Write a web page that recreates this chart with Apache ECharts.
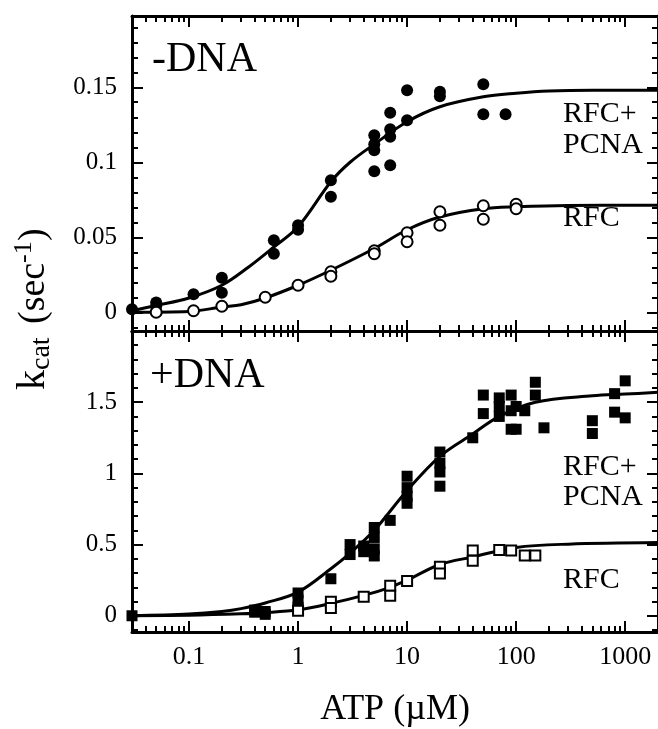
<!DOCTYPE html>
<html>
<head>
<meta charset="utf-8">
<script src="https://cdn.jsdelivr.net/npm/echarts@6/dist/echarts.min.js"></script>
<style>
  html, body { margin: 0; padding: 0; background: #fff; }
  #chart { width: 658px; height: 729px; }
</style>
</head>
<body>
<div id="chart"></div>
<script>
const font = '"Liberation Serif", "Times New Roman", Times, serif';

// x: ATP (uM), log scale
const xMin = 0.03, xMax = 2000;
const xMajor = [0.1, 1, 10, 100, 1000];
const xMinor = [0.04, 0.05, 0.06, 0.07, 0.08, 0.09,
  0.2, 0.3, 0.4, 0.5, 0.6, 0.7, 0.8, 0.9,
  2, 3, 4, 5, 6, 7, 8, 9,
  20, 30, 40, 50, 60, 70, 80, 90,
  200, 300, 400, 500, 600, 700, 800, 900];

// y ticks, top (-DNA) and bottom (+DNA)
const topMajor = [0, 0.05, 0.1, 0.15];
const topMinor = [-0.01, 0.01, 0.02, 0.03, 0.04, 0.06, 0.07, 0.08, 0.09,
  0.11, 0.12, 0.13, 0.14, 0.16, 0.17, 0.18, 0.19];
const botMajor = [0, 0.5, 1, 1.5];
const botMinor = [-0.1, 0.1, 0.2, 0.3, 0.4, 0.6, 0.7, 0.8, 0.9,
  1.1, 1.2, 1.3, 1.4, 1.6, 1.7, 1.8, 1.9];

// -DNA, RFC+PCNA (filled circles)
const minusPcna = [[0.03, 0.002], [0.05, 0.0065], [0.05, 0.004], [0.11, 0.012], [0.2, 0.023], [0.2, 0.013],
  [0.6, 0.048], [0.6, 0.039], [1, 0.058], [1, 0.055], [2, 0.088], [2, 0.077],
  [5, 0.118], [5, 0.112], [5, 0.108], [5, 0.094], [7, 0.133], [7, 0.122], [7, 0.117], [7, 0.098],
  [10, 0.148], [10, 0.128], [20, 0.147], [20, 0.144], [50, 0.152], [50, 0.132], [80, 0.132]];
const minusPcnaFit = [[0.03, 0.001], [0.05, 0.0045], [0.1, 0.0095], [0.2, 0.018], [0.35, 0.03], [0.6, 0.0435],
  [1, 0.057], [2, 0.087], [3, 0.1], [5, 0.112], [10, 0.127], [20, 0.137], [50, 0.1436],
  [100, 0.146], [200, 0.1475], [500, 0.148], [2000, 0.148]];

// -DNA, RFC (open circles)
const minusRfc = [[0.05, 0.0], [0.11, 0.001], [0.2, 0.004], [0.5, 0.01], [1, 0.018], [2, 0.027], [2, 0.024],
  [5, 0.041], [5, 0.039], [10, 0.053], [10, 0.047], [20, 0.067], [20, 0.058],
  [50, 0.071], [50, 0.062], [100, 0.072], [100, 0.069]];
const minusRfcFit = [[0.03, 0.0], [0.1, 0.0005], [0.2, 0.0035], [0.3, 0.005], [0.5, 0.0095], [1, 0.018],
  [2, 0.028], [5, 0.0425], [10, 0.055], [20, 0.0635], [50, 0.069], [100, 0.0703], [300, 0.0712], [2000, 0.0713]];

// +DNA, RFC+PCNA (filled squares)
const plusPcna = [[0.03, 0.0], [0.4, 0.04], [0.4, 0.025], [0.5, 0.03], [0.5, 0.01],
  [1, 0.16], [1, 0.11], [1, 0.06], [2, 0.26], [3, 0.5], [3, 0.43], [4, 0.49], [4, 0.45],
  [5, 0.62], [5, 0.55], [5, 0.47], [5, 0.42], [7, 0.67],
  [10, 0.98], [10, 0.9], [10, 0.84], [10, 0.79], [20, 1.15], [20, 1.07], [20, 1.01], [20, 0.91],
  [40, 1.25], [50, 1.55], [50, 1.42], [70, 1.53], [70, 1.47], [70, 1.4],
  [90, 1.55], [90, 1.44], [90, 1.31], [100, 1.47], [100, 1.31], [120, 1.44],
  [150, 1.64], [150, 1.55], [180, 1.32], [500, 1.37], [500, 1.28],
  [800, 1.56], [800, 1.43], [1000, 1.65], [1000, 1.39]];
const plusPcnaFit = [[0.03, 0.0], [0.1, 0.012], [0.2, 0.03], [0.3, 0.05], [0.5, 0.09], [1, 0.166],
  [2, 0.33], [3, 0.44], [5, 0.6], [10, 0.88], [20, 1.12], [40, 1.277], [70, 1.4],
  [150, 1.5], [500, 1.545], [1000, 1.557], [2000, 1.569]];

// +DNA, RFC (open squares)
const plusRfc = [[1, 0.036], [2, 0.099], [2, 0.054], [4, 0.133], [7, 0.21], [7, 0.14], [10, 0.245],
  [20, 0.345], [20, 0.296], [40, 0.458], [40, 0.386], [70, 0.462], [90, 0.458], [120, 0.424], [150, 0.424]];
const plusRfcFit = [[0.03, 0.0], [0.1, 0.004], [0.3, 0.014], [0.5, 0.022], [1, 0.042], [2, 0.087],
  [4, 0.143], [7, 0.2], [10, 0.25], [20, 0.36], [40, 0.413], [100, 0.48], [300, 0.503], [2000, 0.514]];

function makeX(gridIndex, position, ticks, len, showLine, showLabel) {
  return {
    type: 'log', logBase: 10, gridIndex, position, min: xMin, max: xMax,
    axisLine: { show: showLine, onZero: false, lineStyle: { color: '#000', width: 3 } },
    axisTick: { show: true, inside: true, length: len, customValues: ticks, lineStyle: { color: '#000', width: 2 } },
    axisLabel: { show: showLabel, customValues: ticks, color: '#000', fontFamily: font, fontSize: 26, margin: 12,
      formatter: v => String(v) },
    splitLine: { show: false }
  };
}
function makeY(gridIndex, position, min, max, ticks, len, showLine, showLabel) {
  return {
    type: 'value', gridIndex, position, min, max,
    axisLine: { show: showLine, onZero: false, lineStyle: { color: '#000', width: 3 } },
    axisTick: { show: true, inside: true, length: len, customValues: ticks, lineStyle: { color: '#000', width: 2 } },
    axisLabel: { show: showLabel, customValues: ticks, color: '#000', fontFamily: font, fontSize: 25, margin: 15,
      formatter: v => String(v) },
    splitLine: { show: false }
  };
}

const xAxes = [
  makeX(0, 'bottom', xMajor, 11, true, false),
  makeX(0, 'top', xMajor, 11, true, false),
  makeX(0, 'bottom', xMinor, 6, false, false),
  makeX(0, 'top', xMinor, 6, false, false),
  makeX(1, 'bottom', xMajor, 11, true, true),
  makeX(1, 'top', xMajor, 11, true, false),
  makeX(1, 'bottom', xMinor, 6, false, false),
  makeX(1, 'top', xMinor, 6, false, false)
];
xAxes[4].name = 'ATP (\u00b5M)';
xAxes[4].nameLocation = 'middle';
xAxes[4].nameGap = 60;
xAxes[4].nameTextStyle = { color: '#000', fontFamily: font, fontSize: 36 };

const yAxes = [
  makeY(0, 'left', -0.0125, 0.1975, topMajor, 11, true, true),
  makeY(0, 'right', -0.0125, 0.1975, topMajor, 11, true, false),
  makeY(0, 'left', -0.0125, 0.1975, topMinor, 6, false, false),
  makeY(0, 'right', -0.0125, 0.1975, topMinor, 6, false, false),
  makeY(1, 'left', -0.114, 2.0, botMajor, 11, true, true),
  makeY(1, 'right', -0.114, 2.0, botMajor, 11, true, false),
  makeY(1, 'left', -0.114, 2.0, botMinor, 6, false, false),
  makeY(1, 'right', -0.114, 2.0, botMinor, 6, false, false)
];

function fit(data, ax) {
  return { type: 'line', xAxisIndex: ax, yAxisIndex: ax, data, smooth: 0.35, symbol: 'none',
    lineStyle: { color: '#000', width: 3 }, z: 2, silent: true };
}
function pts(data, ax, symbol, size, filled) {
  return { type: 'scatter', xAxisIndex: ax, yAxisIndex: ax, data, symbol, symbolSize: size, z: 3,
    itemStyle: filled ? { color: '#000', opacity: 1 } : { color: '#fff', borderColor: '#000', borderWidth: 2, opacity: 1 } };
}

function txt(x, y, text, size) {
  return { type: 'text', x, y, style: { text, fontFamily: font, fontSize: size, fill: '#000',
    align: 'left', verticalAlign: 'middle' } };
}

const chart = echarts.init(document.getElementById('chart'));
chart.setOption({
  animation: false,
  backgroundColor: '#fff',
  grid: [
    { left: 132, right: -3, top: 16, height: 315 },
    { left: 132, right: -3, top: 331, height: 314 }
  ],
  xAxis: xAxes,
  yAxis: yAxes,
  series: [
    fit(minusPcnaFit, 0), fit(minusRfcFit, 0), fit(plusPcnaFit, 4), fit(plusRfcFit, 4),
    pts(minusPcna, 0, 'circle', 12, true),
    pts(minusRfc, 0, 'circle', 11, false),
    pts(plusPcna, 4, 'rect', 11, true),
    pts(plusRfc, 4, 'rect', 10, false)
  ],
  graphic: [
    txt(152, 60, '-DNA', 42),
    txt(150, 376, '+DNA', 42),
    txt(563, 114, 'RFC+', 30),
    txt(563, 145, 'PCNA', 30),
    txt(563, 218, 'RFC', 30),
    txt(563, 467, 'RFC+', 30),
    txt(563, 497, 'PCNA', 30),
    txt(563, 580, 'RFC', 30),
    {
      type: 'group', x: 46, y: 390, rotation: Math.PI / 2,
      children: [
        { type: 'text', x: 0, y: -12.4, style: { text: 'k', fontFamily: font, fontSize: 40, fill: '#000', align: 'left', verticalAlign: 'middle' } },
        { type: 'text', x: 20, y: -4.7, style: { text: 'cat', fontFamily: font, fontSize: 28, fill: '#000', align: 'left', verticalAlign: 'middle' } },
        { type: 'text', x: 66, y: -11.8, style: { text: '(sec', fontFamily: font, fontSize: 38, fill: '#000', align: 'left', verticalAlign: 'middle' } },
        { type: 'text', x: 127, y: -22, style: { text: '-1', fontFamily: font, fontSize: 26, fill: '#000', align: 'left', verticalAlign: 'middle' } },
        { type: 'text', x: 149, y: -11.8, style: { text: ')', fontFamily: font, fontSize: 38, fill: '#000', align: 'left', verticalAlign: 'middle' } }
      ]
    }
  ]
});
</script>
</body>
</html>
